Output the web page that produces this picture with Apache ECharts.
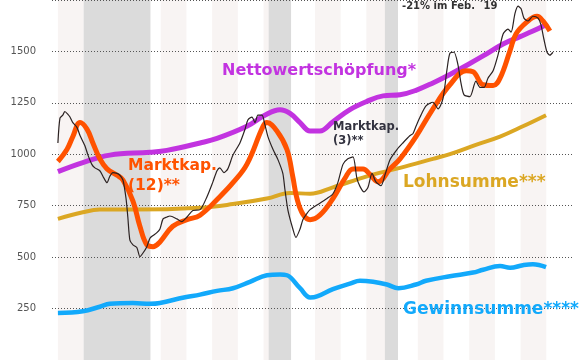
<!DOCTYPE html>
<html><head><meta charset="utf-8">
<script src="https://cdn.jsdelivr.net/npm/echarts@6/dist/echarts.min.js"></script>
<style>html,body{margin:0;padding:0;background:#fff}#c{width:583px;height:360px}</style>
</head><body><div id="c"></div>
<script>
// Years are offsets from 2000 (decimal years)
const yTicks = [250, 500, 750, 1000, 1250, 1500];

const wertYears = [0.00,0.97,2.02,3.58,4.24,5.53,6.19,7.35,8.05,8.64,9.03,9.42,9.81,10.19,10.70,11.36,12.02,12.65,13.31,13.93,14.59,15.25,15.91,16.54,17.32,17.98,18.48,18.99];
const wertVals  = [916,960,996,1010,1019,1055,1077,1136,1190,1217,1199,1154,1113,1113,1158,1217,1257,1284,1289,1311,1347,1388,1433,1478,1536,1572,1599,1630];

const lohnYears = [0.00,0.97,1.63,2.92,5.53,6.81,8.13,9.03,9.81,10.70,12.02,13.31,14.59,15.25,16.26,17.20,18.09,18.99];
const lohnVals  = [686,718,731,731,740,758,785,812,808,839,893,934,978,1001,1046,1086,1136,1190];

const gewYears = [0.00,0.97,1.63,2.02,2.92,3.58,3.97,4.90,5.53,6.19,6.81,7.47,8.13,8.64,8.91,9.42,9.81,10.08,10.70,11.36,11.75,12.26,12.80,13.25,13.93,14.32,15.25,16.15,16.54,17.20,17.59,18.09,18.48,18.99];
const gewVals  = [228,237,259,273,277,273,277,304,318,336,349,380,412,416,412,349,304,309,345,371,385,380,367,349,367,385,407,425,439,457,448,461,466,452];

const mk12Years = [0.00,0.35,0.58,0.86,1.13,1.36,1.63,1.91,2.30,2.53,2.92,3.19,3.46,3.70,3.97,4.47,5.02,5.53,6.30,6.81,7.35,7.98,8.13,8.52,8.91,9.14,9.30,9.53,9.81,10.19,10.70,11.17,11.48,11.87,12.14,12.45,12.92,13.31,13.93,14.59,15.25,15.88,16.15,16.54,16.93,17.20,17.59,17.82,18.25,18.64,18.87,19.14];
const mk12Vals  = [965,1023,1086,1154,1122,1055,978,929,898,875,772,650,560,551,574,650,682,704,794,862,951,1136,1154,1113,1023,889,785,709,682,704,785,884,929,929,902,866,929,978,1086,1221,1338,1406,1401,1338,1334,1370,1504,1585,1644,1671,1648,1599];

const mk3Years = [0.00,0.08,0.19,0.27,0.39,0.47,0.58,0.74,0.86,1.05,1.17,1.32,1.44,1.63,1.79,1.91,2.02,2.14,2.30,2.41,2.53,2.65,2.72,2.80,2.92,3.07,3.19,3.31,3.46,3.58,3.70,3.85,3.97,4.09,4.24,4.36,4.63,4.82,5.02,5.25,5.53,5.80,6.03,6.19,6.30,6.46,6.61,6.81,7.08,7.28,7.39,7.55,7.67,7.78,7.94,8.05,8.17,8.37,8.56,8.75,8.83,8.95,9.14,9.26,9.42,9.53,9.69,9.81,10.08,10.31,10.47,10.70,10.89,11.09,11.28,11.48,11.63,11.75,11.91,12.06,12.22,12.37,12.57,12.72,12.92,13.19,13.42,13.70,13.81,13.93,14.09,14.32,14.59,14.79,14.98,15.14,15.25,15.41,15.56,15.68,15.80,16.03,16.26,16.42,16.58,16.73,16.93,17.12,17.32,17.51,17.63,17.78,17.90,18.02,18.13,18.29,18.48,18.68,18.79,18.91,19.03,19.14,19.26];
const mk3Vals  = [1055,1176,1190,1208,1194,1181,1154,1131,1091,1041,996,951,934,920,884,862,893,911,907,898,875,785,695,583,560,547,502,520,551,592,605,619,637,686,695,700,686,673,695,727,731,794,866,920,934,911,929,996,1055,1122,1167,1181,1154,1190,1190,1145,1086,1023,974,907,830,727,637,596,637,682,713,731,754,772,785,808,862,951,978,987,884,844,817,839,907,866,848,898,974,1023,1055,1091,1100,1136,1181,1235,1253,1221,1271,1415,1491,1496,1437,1347,1289,1280,1356,1325,1325,1370,1406,1482,1585,1608,1594,1684,1720,1707,1662,1648,1671,1662,1630,1558,1496,1482,1496];

const lightBands = [[0,1],[2,3],[4,5],[6,7],[8,9],[10,11],[12,13],[14,15],[16,17],[18,19]];
const recessions = [[1.0,3.6],[8.2,9.07],[12.72,13.23]];

const BASE = 2000;
const pairs = (xs, vs) => xs.map((x, i) => [BASE + x, vs[i]]);

const areaData = [];
lightBands.forEach(b => areaData.push([{xAxis: BASE + b[0], itemStyle: {color: '#f8f4f3'}}, {xAxis: BASE + b[1]}]));
recessions.forEach(b => areaData.push([{xAxis: BASE + b[0], itemStyle: {color: '#dbdbdb'}}, {xAxis: BASE + b[1]}]));

const chart = echarts.init(document.getElementById('c'), null, {renderer: 'canvas'});
const FONT = 'DejaVu Sans';
function label(text, x, y, color, size, lh) {
  return {type: 'text', left: x, top: y, z: 50, silent: true,
    style: {text: text, fill: color, font: 'bold ' + size + 'px "' + FONT + '"', lineHeight: lh || size * 1.2}};
}
chart.setOption({
  animation: false,
  grid: {left: 52, right: 11, top: -14.6, bottom: -14.6},
  xAxis: {type: 'value', min: 1999.77, max: 2020.0, show: false},
  yAxis: {type: 'value', min: 0, max: 1750, interval: 250, z: 2,
    axisLine: {show: false}, axisTick: {show: false},
    axisLabel: {margin: 16, color: '#555', fontFamily: FONT, fontSize: 10,
      formatter: v => (yTicks.indexOf(v) >= 0 ? String(v) : '')},
    splitLine: {lineStyle: {color: '#555', type: [1, 2], width: 1}}},
  series: [
    {type: 'line', name: 'Lohnsumme', data: pairs(lohnYears, lohnVals), showSymbol: false, smooth: 0.4, z: 3,
      lineStyle: {color: '#dba723', width: 4}, 
      markArea: {silent: true, z: 1, data: areaData}},
    {type: 'line', name: 'Gewinnsumme', data: pairs(gewYears, gewVals), showSymbol: false, smooth: 0.4, z: 3,
      lineStyle: {color: '#12a9fb', width: 4.5}},
    {type: 'line', name: 'Nettowertschöpfung', data: pairs(wertYears, wertVals), showSymbol: false, smooth: 0.4, z: 4,
      lineStyle: {color: '#c233e0', width: 5}},
    {type: 'line', name: 'Marktkap12', data: pairs(mk12Years, mk12Vals), showSymbol: false, smooth: 0.4, z: 5,
      lineStyle: {color: '#ff5200', width: 5}},
    {type: 'line', name: 'Marktkap3', data: pairs(mk3Years, mk3Vals), showSymbol: false, smooth: 0.25, z: 6,
      lineStyle: {color: '#2b2222', width: 1.2}}
  ],
  graphic: [
    label('Nettowertschöpfung*', 222, 61, '#c233e0', 16),
    label('Marktkap.\n(12)**', 128, 156, '#ff5200', 15.5, 20),
    label('Marktkap.\n(3)**', 333, 120, '#333340', 11.5, 14),
    label('Lohnsumme***', 403, 172, '#dba723', 17),
    label('Gewinnsumme****', 403, 299, '#12a9fb', 17),
    label('-21% im Feb. ´19', 402, 0, '#333', 10)
  ]
});
</script></body></html>
